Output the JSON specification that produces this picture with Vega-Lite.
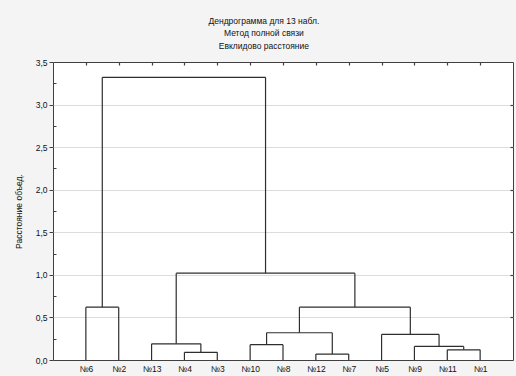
{
  "$schema": "https://vega.github.io/schema/vega-lite/v6.json",
  "width": 460,
  "height": 298,
  "autosize": "none",
  "padding": {"left": 53, "top": 62, "right": 3, "bottom": 16},
  "background": "#f4f4f4",
  "config": {
    "view": {"fill": "white", "stroke": "#404040", "strokeWidth": 1},
    "font": "Liberation Sans"
  },
  "title": {
    "text": ["Дендрограмма для 13 набл.", "Метод полной связи", "Евклидово расстояние"],
    "fontSize": 8.5,
    "fontWeight": "normal",
    "font": "Liberation Sans",
    "color": "#111111",
    "anchor": "middle",
    "frame": "bounds",
    "lineHeight": 12.5,
    "offset": 8
  },
  "data": {
    "values": [
      {"node": "A", "x": 4, "x2": 4, "y": 0, "y2": 0.09},
      {"node": "A", "x": 5, "x2": 5, "y": 0, "y2": 0.09},
      {"node": "A", "x": 4, "x2": 5, "y": 0.09, "y2": 0.09},
      {"node": "B", "x": 3, "x2": 3, "y": 0, "y2": 0.19},
      {"node": "B", "x": 4.5, "x2": 4.5, "y": 0.09, "y2": 0.19},
      {"node": "B", "x": 3, "x2": 4.5, "y": 0.19, "y2": 0.19},
      {"node": "C", "x": 6, "x2": 6, "y": 0, "y2": 0.18},
      {"node": "C", "x": 7, "x2": 7, "y": 0, "y2": 0.18},
      {"node": "C", "x": 6, "x2": 7, "y": 0.18, "y2": 0.18},
      {"node": "D", "x": 8, "x2": 8, "y": 0, "y2": 0.07},
      {"node": "D", "x": 9, "x2": 9, "y": 0, "y2": 0.07},
      {"node": "D", "x": 8, "x2": 9, "y": 0.07, "y2": 0.07},
      {"node": "E", "x": 6.5, "x2": 6.5, "y": 0.18, "y2": 0.32},
      {"node": "E", "x": 8.5, "x2": 8.5, "y": 0.07, "y2": 0.32},
      {"node": "E", "x": 6.5, "x2": 8.5, "y": 0.32, "y2": 0.32},
      {"node": "F", "x": 12, "x2": 12, "y": 0, "y2": 0.12},
      {"node": "F", "x": 13, "x2": 13, "y": 0, "y2": 0.12},
      {"node": "F", "x": 12, "x2": 13, "y": 0.12, "y2": 0.12},
      {"node": "G", "x": 11, "x2": 11, "y": 0, "y2": 0.16},
      {"node": "G", "x": 12.5, "x2": 12.5, "y": 0.12, "y2": 0.16},
      {"node": "G", "x": 11, "x2": 12.5, "y": 0.16, "y2": 0.16},
      {"node": "H", "x": 10, "x2": 10, "y": 0, "y2": 0.30},
      {"node": "H", "x": 11.75, "x2": 11.75, "y": 0.16, "y2": 0.30},
      {"node": "H", "x": 10, "x2": 11.75, "y": 0.30, "y2": 0.30},
      {"node": "I", "x": 7.5, "x2": 7.5, "y": 0.32, "y2": 0.62},
      {"node": "I", "x": 10.875, "x2": 10.875, "y": 0.30, "y2": 0.62},
      {"node": "I", "x": 7.5, "x2": 10.875, "y": 0.62, "y2": 0.62},
      {"node": "J", "x": 3.75, "x2": 3.75, "y": 0.19, "y2": 1.02},
      {"node": "J", "x": 9.1875, "x2": 9.1875, "y": 0.62, "y2": 1.02},
      {"node": "J", "x": 3.75, "x2": 9.1875, "y": 1.02, "y2": 1.02},
      {"node": "L", "x": 1, "x2": 1, "y": 0, "y2": 0.62},
      {"node": "L", "x": 2, "x2": 2, "y": 0, "y2": 0.62},
      {"node": "L", "x": 1, "x2": 2, "y": 0.62, "y2": 0.62},
      {"node": "K", "x": 1.5, "x2": 1.5, "y": 0.62, "y2": 3.32},
      {"node": "K", "x": 6.46875, "x2": 6.46875, "y": 1.02, "y2": 3.32},
      {"node": "K", "x": 1.5, "x2": 6.46875, "y": 3.32, "y2": 3.32}
    ]
  },
  "layer": [
    {
      "mark": {"type": "rule", "color": "#2e2e2e", "strokeWidth": 1.2},
      "encoding": {
        "x": {
          "field": "x", "type": "quantitative",
          "scale": {"domain": [0, 14], "nice": false, "zero": false},
          "axis": {
            "orient": "bottom",
            "values": [1,2,3,4,5,6,7,8,9,10,11,12,13],
            "labelExpr": "['','№6','№2','№13','№4','№3','№10','№8','№12','№7','№5','№9','№11','№1'][datum.value]",
            "ticks": false, "domain": false, "grid": false,
            "labelFontSize": 8.5, "labelColor": "#111111", "labelPadding": 4,
            "title": null
          }
        },
        "x2": {"field": "x2"},
        "y": {
          "field": "y", "type": "quantitative",
          "scale": {"domain": [0, 3.5], "nice": false},
          "axis": {
            "orient": "left",
            "values": [0,0.25,0.5,0.75,1,1.25,1.5,1.75,2,2.25,2.5,2.75,3,3.25,3.5],
            "labelExpr": "(datum.value * 2) % 1 == 0 ? replace(format(datum.value, '.1f'), '.', ',') : ''",
            "domain": false,
            "grid": true,
            "gridColor": "#dcdcdc",
            "gridOpacity": {"condition": {"test": "(datum.value * 2) % 1 != 0 || datum.value == 0 || datum.value == 3.5", "value": 0}, "value": 1},
            "tickColor": "#404040",
            "tickSize": {"condition": {"test": "(datum.value * 2) % 1 != 0", "value": -3}, "value": 4},
            "labelFontSize": 8.5, "labelColor": "#111111", "labelPadding": 2,
            "title": "Расстояние объед.",
            "titleFontSize": 8.5, "titleFontWeight": "normal", "titleColor": "#111111",
            "titlePadding": 12
          }
        },
        "y2": {"field": "y2"}
      }
    },
    {
      "mark": {"type": "rule", "opacity": 0},
      "encoding": {
        "x": {
          "field": "x", "type": "quantitative",
          "scale": {"domain": [0, 14], "nice": false, "zero": false},
          "axis": {
            "orient": "top",
            "values": [1,2,3,4,5,6,7,8,9,10,11,12,13],
            "labels": false, "domain": false, "grid": false,
            "tickSize": -3, "tickColor": "#404040", "tickWidth": 1.2,
            "title": null
          }
        },
        "x2": {"field": "x2"},
        "y": {
          "field": "y", "type": "quantitative",
          "scale": {"domain": [0, 3.5], "nice": false},
          "axis": {
            "orient": "right",
            "values": [0.5,1,1.5,2,2.5,3],
            "labels": false, "domain": false, "grid": false,
            "tickSize": -3, "tickColor": "#404040", "tickWidth": 1.2,
            "title": null
          }
        },
        "y2": {"field": "y2"}
      }
    }
  ],
  "resolve": {"axis": {"x": "independent", "y": "independent"}}
}
